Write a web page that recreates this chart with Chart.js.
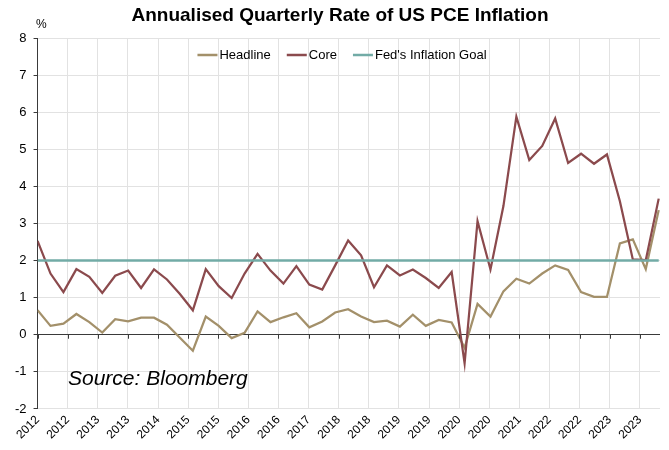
<!DOCTYPE html>
<html>
<head>
<meta charset="utf-8">
<script src="https://cdn.jsdelivr.net/npm/chart.js@4/dist/chart.umd.min.js"></script>
<style>
  html, body { margin: 0; padding: 0; background: #fff; }
  #wrap { width: 669px; height: 450px; }
</style>
</head>
<body>
<div id="wrap"><canvas id="pce" width="669" height="450"></canvas></div>
<script>
/* Annualised quarterly rate of US PCE inflation, 2012 Q1 - 2024 Q1 */

const quarters = [
  '2012Q1','2012Q2','2012Q3','2012Q4','2013Q1','2013Q2','2013Q3','2013Q4',
  '2014Q1','2014Q2','2014Q3','2014Q4','2015Q1','2015Q2','2015Q3','2015Q4',
  '2016Q1','2016Q2','2016Q3','2016Q4','2017Q1','2017Q2','2017Q3','2017Q4',
  '2018Q1','2018Q2','2018Q3','2018Q4','2019Q1','2019Q2','2019Q3','2019Q4',
  '2020Q1','2020Q2','2020Q3','2020Q4','2021Q1','2021Q2','2021Q3','2021Q4',
  '2022Q1','2022Q2','2022Q3','2022Q4','2023Q1','2023Q2','2023Q3','2023Q4',
  '2024Q1',
];

const headline = [
  0.66, 0.24, 0.30, 0.56, 0.34, 0.06, 0.42, 0.36,
  0.46, 0.46, 0.27, -0.08, -0.43, 0.49, 0.24, -0.09,
  0.05, 0.63, 0.34, 0.47, 0.58, 0.20, 0.36, 0.60,
  0.69, 0.49, 0.34, 0.38, 0.22, 0.54, 0.24, 0.40,
  0.33, -0.35, 0.83, 0.49, 1.17, 1.51, 1.38, 1.65,
  1.87, 1.75, 1.15, 1.02, 1.02, 2.46, 2.57, 1.77,
  3.36,
];

const core = [
  2.53, 1.65, 1.15, 1.77, 1.56, 1.13, 1.59, 1.73,
  1.26, 1.76, 1.49, 1.10, 0.66, 1.77, 1.31, 0.99,
  1.65, 2.18, 1.73, 1.38, 1.85, 1.35, 1.22, 1.87,
  2.54, 2.14, 1.28, 1.87, 1.60, 1.76, 1.53, 1.26,
  1.69, -0.77, 3.06, 1.76, 3.47, 5.88, 4.71, 5.09,
  5.83, 4.63, 4.88, 4.61, 4.86, 3.60, 2.03, 2.01,
  3.67,
];

const goal = [
  2, 2, 2, 2, 2, 2, 2, 2, 2, 2, 2, 2, 2, 2, 2, 2, 2, 2, 2, 2, 2, 2, 2, 2,
  2, 2, 2, 2, 2, 2, 2, 2, 2, 2, 2, 2, 2, 2, 2, 2, 2, 2, 2, 2, 2, 2, 2, 2, 2,
];

const tickLabels = [
  '2012', '2012', '2013', '2013', '2014', '2015', '2015', '2016', '2016', '2017', '2018',
  '2018', '2019', '2019', '2020', '2020', '2021', '2022', '2022', '2023', '2023',
];

const yTicks = { min: -2, max: 8, step: 1 };

// date axis: one label roughly every 7 months (in quarter units)
const tickStep = 2.327;

const FONT = 'Arial, "Liberation Sans", sans-serif';
const colors = {
  headline: '#a3906a',
  core: '#8b4a4d',
  goal: '#72aba6',
  grid: '#e2e2e2',
  axis: '#3a3a3a',
};

const toPoints = arr => arr.map((v, i) => ({ x: i, y: v }));

// titles, legend inside plot, source note and zero-line tick marks
const decorations = {
  id: 'decorations',
  afterDraw(chart) {
    const { ctx, scales } = chart;
    ctx.save();

    ctx.fillStyle = '#000';
    ctx.textBaseline = 'middle';
    ctx.textAlign = 'center';
    ctx.font = `bold 19px ${FONT}`;
    ctx.fillText('Annualised Quarterly Rate of US PCE Inflation', 340, 16);

    ctx.font = `12px ${FONT}`;
    ctx.textAlign = 'left';
    ctx.fillText('%', 36, 25);

    ctx.font = `italic 21px ${FONT}`;
    ctx.fillText('Source: Bloomberg', 68, 379);

    // tick marks hanging off the zero line
    const y0 = scales.y.getPixelForValue(0);
    ctx.strokeStyle = colors.axis;
    ctx.lineWidth = 1;
    scales.x.ticks.forEach(t => {
      const x = Math.round(scales.x.getPixelForValue(t.value)) + 0.5;
      ctx.beginPath();
      ctx.moveTo(x, y0);
      ctx.lineTo(x, y0 + 4);
      ctx.stroke();
    });

    // legend
    const items = [
      { label: 'Headline', color: colors.headline },
      { label: 'Core', color: colors.core },
      { label: "Fed's Inflation Goal", color: colors.goal },
    ];
    ctx.font = `13px ${FONT}`;
    const sample = 20, gap = 2, itemGap = 16;
    const total = items.reduce((s, it) => s + sample + gap + ctx.measureText(it.label).width, 0)
      + itemGap * (items.length - 1);
    let x = 342 - total / 2;
    const ly = 55;
    items.forEach(it => {
      ctx.strokeStyle = it.color;
      ctx.lineWidth = 2.5;
      ctx.beginPath();
      ctx.moveTo(x, ly);
      ctx.lineTo(x + sample, ly);
      ctx.stroke();
      x += sample + gap;
      ctx.fillStyle = '#000';
      ctx.fillText(it.label, x, ly);
      x += ctx.measureText(it.label).width + itemGap;
    });

    ctx.restore();
  },
};

new Chart(document.getElementById('pce').getContext('2d'), {
  type: 'line',
  data: {
    datasets: [
      {
        label: "Fed's Inflation Goal",
        data: toPoints(goal),
        borderColor: colors.goal,
        borderWidth: 2.5,
        pointRadius: 0,
        order: 0,
      },
      {
        label: 'Core',
        data: toPoints(core),
        borderColor: colors.core,
        borderWidth: 2.25,
        pointRadius: 0,
        order: 1,
      },
      {
        label: 'Headline',
        data: toPoints(headline),
        borderColor: colors.headline,
        borderWidth: 2.25,
        pointRadius: 0,
        order: 2,
      },
    ],
  },
  options: {
    responsive: false,
    animation: false,
    layout: { padding: { top: 38, right: 9, left: 8, bottom: 4 } },
    plugins: {
      legend: { display: false },
      title: { display: false },
      tooltip: { enabled: false },
    },
    scales: {
      x: {
        type: 'linear',
        min: 0,
        max: 48.1,
        afterBuildTicks(scale) {
          scale.ticks = tickLabels.map((_, i) => ({ value: i * tickStep }));
        },
        grid: { color: colors.grid, drawTicks: false },
        border: { display: false },
        ticks: {
          autoSkip: false,
          maxRotation: 45,
          minRotation: 45,
          padding: 4,
          color: '#000',
          font: { family: FONT, size: 12 },
          callback(val, i) { return tickLabels[i]; },
        },
      },
      y: {
        min: yTicks.min,
        max: yTicks.max,
        grid: {
          color: ctx => (ctx.tick && ctx.tick.value === 0 ? colors.axis : colors.grid),
          tickColor: colors.axis,
          tickLength: 4,
        },
        border: { color: colors.axis, width: 1 },
        ticks: {
          stepSize: yTicks.step,
          padding: 7,
          color: '#000',
          font: { family: FONT, size: 13 },
        },
      },
    },
  },
  plugins: [decorations],
});
</script>
</body>
</html>
